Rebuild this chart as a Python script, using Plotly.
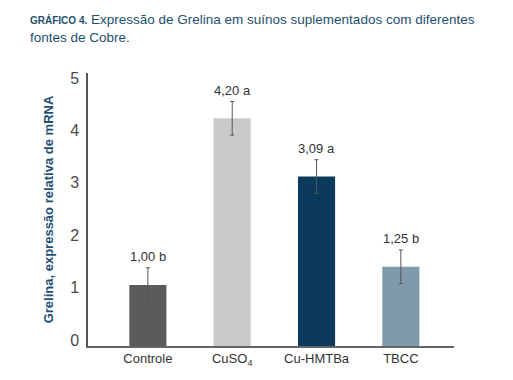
import plotly.graph_objects as go

categories = ["Controle", "CuSO<sub>4</sub>", "Cu-HMTBa", "TBCC"]
values = [1.05, 4.23, 3.12, 1.40]
errors = [0.33, 0.32, 0.32, 0.32]
value_labels = ["1,00 b", "4,20 a", "3,09 a", "1,25 b"]
colors = ["#5b5b5b", "#c9c9c9", "#0b3a5c", "#7f9aab"]
y_ticks = [0, 1, 2, 3, 4, 5]

AXIS_FLOOR = -0.112
FONT = "Liberation Sans, Arial, sans-serif"

fig = go.Figure()
fig.add_trace(go.Bar(
    x=categories,
    y=[v - AXIS_FLOOR for v in values],
    base=AXIS_FLOOR,
    marker=dict(color=colors, line=dict(width=0)),
    width=0.44,
    error_y=dict(type="data", array=errors, color="#555555", thickness=1, width=2),
    hoverinfo="skip",
))

for c, v, e, t in zip(categories, values, errors, value_labels):
    fig.add_annotation(x=c, y=v + e, text=t, showarrow=False, yanchor="bottom",
                       yshift=2, font=dict(family=FONT, size=13, color="#333333"))

fig.add_annotation(
    xref="paper", yref="paper", x=-0.165, y=1.0 + 64 / 278, xanchor="left", yanchor="top",
    align="left", showarrow=False,
    text="<b><span style='font-size:10px'>GRÁFICO 4.</span></b> Expressão de Grelina em suínos suplementados com diferentes<br>fontes de Cobre.",
    font=dict(family=FONT, size=13.5, color="#24506e"),
)

fig.update_layout(
    width=513, height=380,
    margin=dict(l=88, r=59, t=73, b=29),
    plot_bgcolor="white", paper_bgcolor="white",
    showlegend=False,
    font=dict(family=FONT),
    xaxis=dict(range=[-0.71, 3.63], showline=True, linecolor="#666666", linewidth=1.5,
               ticks="", showgrid=False, zeroline=False,
               tickfont=dict(family=FONT, size=13, color="#333333")),
    yaxis=dict(range=[AXIS_FLOOR, 5.094], tickvals=y_ticks, showline=True,
               linecolor="#555555", linewidth=1.5, ticks="", showgrid=False, zeroline=False,
               ticklabelstandoff=4,
               tickfont=dict(family=FONT, size=16, color="#4a4a4a"),
               title=dict(text="<b>Grelina, expressão relativa de mRNA</b>", standoff=14,
                          font=dict(family=FONT, size=13, color="#1f4f75"))),
)

fig.write_html("out.html", config={"displayModeBar": False},
               post_script="document.body.style.margin='0';")
